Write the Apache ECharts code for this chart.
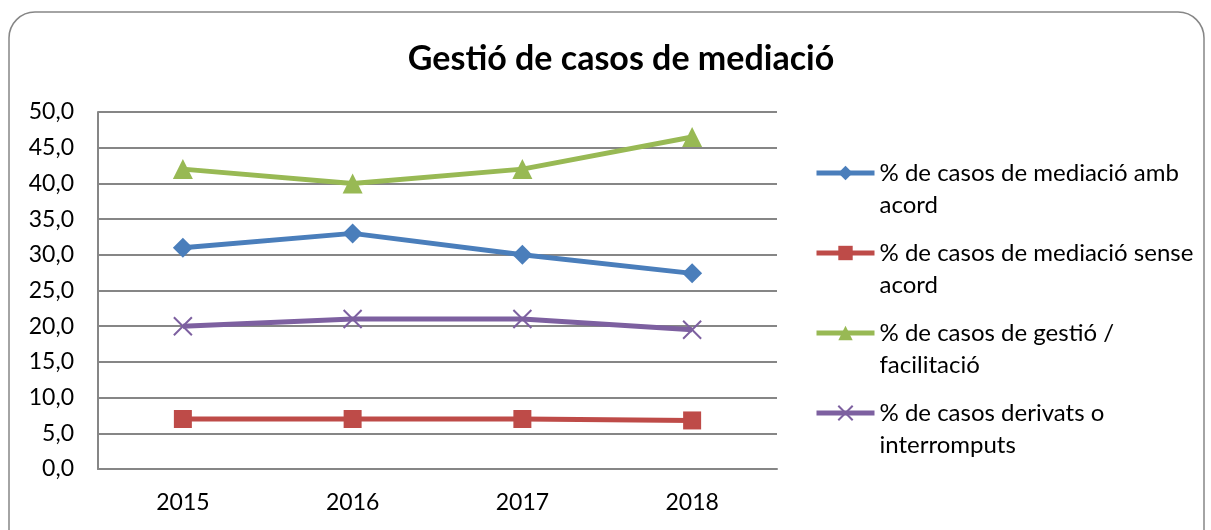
<!DOCTYPE html>
<html>
<head>
<meta charset="utf-8">
<script src="https://cdn.jsdelivr.net/npm/echarts@6/dist/echarts.min.js"></script>
<style>
	html, body { margin: 0; padding: 0; background: #fff; }
	#chart { width: 1211px; height: 530px; }
</style>
</head>
<body>
<div id="chart"></div>
<script>
var years = ['2015', '2016', '2017', '2018'];
var ambAcord = [31.0, 33.0, 30.0, 27.4];
var senseAcord = [7.0, 7.0, 7.0, 6.8];
var gestio = [42.0, 40.0, 42.0, 46.5];
var derivats = [20.0, 21.0, 21.0, 19.5];
var seriesNames = [
	'% de casos de mediació amb\nacord',
	'% de casos de mediació sense\nacord',
	'% de casos de gestió /\nfacilitació',
	'% de casos derivats o\ninterromputs'
];

var font = 'Lato';
var crossPath = 'path://M0,0L10,10M10,0L0,10';

function lineSeries(name, data, color, symbol, size) {
	return {
		name: name,
		type: 'line',
		data: data,
		symbol: symbol,
		symbolSize: size,
		lineStyle: { width: 5, color: color },
		itemStyle: { color: color, borderColor: color, borderWidth: symbol === crossPath ? 2 : 0 },
		emphasis: { disabled: true }
	};
}

var chart = echarts.init(document.getElementById('chart'));
var option = {
	animation: false,
	backgroundColor: '#fff',
	graphic: [{
		type: 'rect',
		shape: { x: 9, y: 12, width: 1195, height: 560, r: 26 },
		style: { fill: 'none', stroke: '#868686', lineWidth: 1.5 },
		silent: true
	}],
	title: {
		text: 'Gestió de casos de mediació',
		left: 616,
		top: 37,
		textAlign: 'center',
		textStyle: { fontFamily: font, fontWeight: 'bold', fontSize: 34, color: '#000' }
	},
	grid: { left: 98, right: 434, top: 112, bottom: 61, containLabel: false },
	xAxis: {
		type: 'category',
		data: years,
		axisLine: { lineStyle: { color: '#868686', width: 2 } },
		axisTick: { show: false },
		axisLabel: { fontFamily: font, fontSize: 23, color: '#000', margin: 22 }
	},
	yAxis: {
		type: 'value',
		min: 0,
		max: 50,
		interval: 5,
		axisLine: { show: true, lineStyle: { color: '#868686', width: 2 } },
		axisTick: { show: false },
		splitLine: { lineStyle: { color: '#868686', width: 2 } },
		axisLabel: {
			fontFamily: font, fontSize: 23, color: '#000', margin: 24,
			formatter: function (v) { return v.toFixed(1).replace('.', ','); }
		}
	},
	legend: {
		orient: 'vertical',
		left: 809,
		top: 120,
		itemWidth: 58,
		itemHeight: 18,
		itemGap: -16,
		selectedMode: false,
		lineStyle: { width: 5 },
		formatter: function (name) { return '\n' + name; },
		textStyle: { fontFamily: font, fontSize: 24, color: '#000', lineHeight: 32 },
		data: seriesNames
	},
	series: [
		lineSeries(seriesNames[0], ambAcord, '#4a7ebb', 'diamond', 20),
		lineSeries(seriesNames[1], senseAcord, '#be4b48', 'rect', 18),
		lineSeries(seriesNames[2], gestio, '#98b954', 'triangle', 20),
		lineSeries(seriesNames[3], derivats, '#7d60a0', crossPath, 18)
	]
};
chart.setOption(option);
</script>
</body>
</html>
